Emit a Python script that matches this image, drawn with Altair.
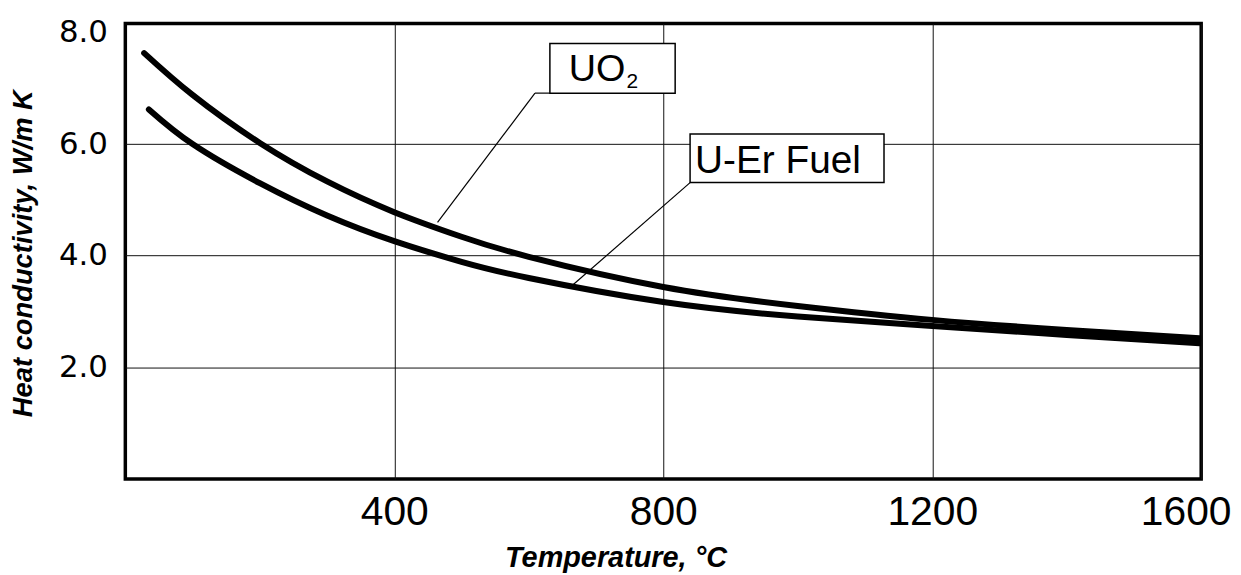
import altair as alt
import pandas as pd

# --- data ---
uo2_T = [28, 100, 200, 300, 400, 500, 600, 800, 1000, 1200, 1400, 1600]
uo2_k = [7.63, 6.88, 6.02, 5.33, 4.78, 4.34, 3.98, 3.44, 3.10, 2.85, 2.67, 2.52]
er_T = [35, 100, 200, 300, 400, 500, 600, 800, 1000, 1200, 1400, 1600]
er_k = [6.62, 6.00, 5.30, 4.72, 4.26, 3.89, 3.60, 3.17, 2.91, 2.74, 2.58, 2.43]

x_ticks = [400, 800, 1200, 1600]
y_ticks = [2, 4, 6, 8]

# annotation boxes (data units)
box_x = [631.4, 839.9]
box_x2 = [817.7, 1128.3]
box_y = [7.80, 6.18]
box_y2 = [6.91, 5.31]

# leader lines (data units)
lead_x = [609.2, 609.2, 839.9]
lead_x2 = [631.4, 464.3, 665.4]
lead_y = [6.913, 6.913, 5.309]
lead_y2 = [6.913, 4.597, 3.474]

# label texts
lab_text = ["UO", "2", "U-Er Fuel"]
lab_x = [659.5, 745.3, 847.3]
lab_y = [7.127, 7.00, 5.49]
lab_size = [38, 21, 39]

curves = pd.concat([
    pd.DataFrame({"T": uo2_T, "k": uo2_k, "s": "UO2"}),
    pd.DataFrame({"T": er_T, "k": er_k, "s": "U-Er"}),
])

xs = alt.Scale(domain=[0, 1600], nice=False, zero=False)
ys = alt.Scale(domain=[0, 8.16], nice=False, zero=False)

x_axis = alt.Axis(
    values=x_ticks, format="d", title="Temperature, °C", labelFont="Liberation Sans",
    labelFontSize=41, labelColor="black", labelPadding=14, ticks=False, domain=False,
    grid=True, gridColor="#111", gridWidth=1, labelFlush=5, labelFlushOffset=30,
    titleFont="Liberation Sans", titleFontSize=29, titleFontWeight="bold",
    titleFontStyle="italic", titleColor="black", titleX=493, titleY=88,
    titleBaseline="alphabetic", titleAlign="center",
)
y_axis = alt.Axis(
    values=y_ticks, format=".1f", title="Heat conductivity, W/m K",
    labelFont="DejaVu Sans", labelFontSize=31, labelColor="black", labelPadding=18,
    ticks=False, domain=False, grid=True, gridColor="#111", gridWidth=1,
    gridOpacity={"condition": {"test": "datum.value == 8", "value": 0}, "value": 1},
    titleFont="Liberation Sans", titleFontSize=27.5, titleFontWeight="bold",
    titleFontStyle="italic", titleColor="black", titleX=-94, titleY=231,
    titleBaseline="alphabetic", titleAlign="center", titleAngle=270,
)

lines = alt.Chart(curves).mark_line(
    color="black", strokeWidth=6, interpolate="natural", strokeCap="round", clip=True
).encode(
    x=alt.X("T:Q", scale=xs, axis=x_axis),
    y=alt.Y("k:Q", scale=ys, axis=y_axis),
    detail="s:N",
)

leads = alt.Chart(pd.DataFrame({"x": lead_x, "x2": lead_x2, "y": lead_y, "y2": lead_y2})).mark_rule(
    color="black", strokeWidth=1.2
).encode(
    x=alt.X("x:Q", scale=xs), x2="x2:Q",
    y=alt.Y("y:Q", scale=ys), y2="y2:Q",
)

boxes = alt.Chart(pd.DataFrame({"x": box_x, "x2": box_x2, "y": box_y, "y2": box_y2})).mark_rect(
    fill="white", stroke="black", strokeWidth=1.5
).encode(
    x=alt.X("x:Q", scale=xs), x2="x2:Q",
    y=alt.Y("y:Q", scale=ys), y2="y2:Q",
)

labels = alt.Chart(pd.DataFrame({"t": lab_text, "x": lab_x, "y": lab_y, "fs": lab_size})).mark_text(
    align="left", baseline="alphabetic", font="Liberation Sans", color="black"
).encode(
    x=alt.X("x:Q", scale=xs), y=alt.Y("y:Q", scale=ys),
    text="t:N", size=alt.Size("fs:Q", scale=None, legend=None),
)

chart = alt.layer(leads, lines, boxes, labels).properties(
    width=1082, height=458,
    autosize=alt.AutoSizeParams(type="none"),
    padding={"left": 118, "top": 14, "right": 32, "bottom": 94},
    background="white",
).configure_view(stroke="black", strokeWidth=3.5)

chart.save("out.html", embed_options={"renderer": "svg", "actions": False})
